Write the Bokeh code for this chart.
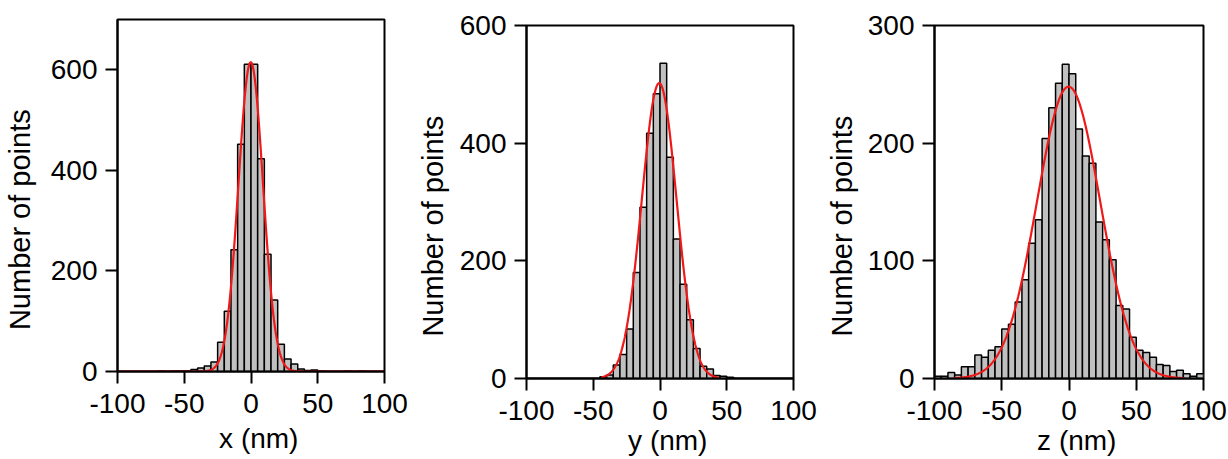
import numpy as np
from bokeh.plotting import figure
from bokeh.layouts import row, column
from bokeh.models import FixedTicker, LinearAxis
from bokeh.embed import file_html
from bokeh.resources import INLINE

# ---- data ----
bin_width = 5
bin_left = list(range(-100, 100, 5))

counts_x = [0, 0, 0, 0, 0, 0, 1, 0, 1, 1,
            1, 4, 7, 11, 19, 58, 120, 242, 452, 611,
            611, 423, 233, 142, 54, 25, 15, 5, 2, 3,
            1, 0, 0, 0, 1, 0, 1, 0, 0, 0]
counts_y = [0, 0, 0, 0, 0, 0, 0, 0, 0, 0,
            0, 3, 6, 23, 41, 84, 180, 291, 417, 484,
            536, 376, 237, 160, 100, 51, 21, 16, 5, 4,
            2, 0, 0, 0, 0, 0, 0, 0, 0, 0]
counts_z = [2, 2, 5, 3, 10, 10, 20, 18, 24, 27,
            42, 46, 65, 84, 115, 135, 204, 230, 251, 267,
            259, 212, 189, 183, 133, 118, 101, 62, 59, 35,
            24, 22, 18, 12, 11, 6, 7, 4, 2, 4]

# Gaussian fit parameters (amplitude, centre, sigma, drawn span)
fit_x = dict(amp=615, mu=-0.2, sigma=9.2, lo=-100, hi=100)
fit_y = dict(amp=502, mu=-0.6, sigma=13.0, lo=-44, hi=44)
fit_z = dict(amp=248, mu=-0.3, sigma=23.5, lo=-86, hi=86)

x_ticks = [-100, -50, 0, 50, 100]
x_tick_labels = ["-100", "-50", "0", "50", "100"]
y_ticks_x = [0, 200, 400, 600]
y_ticks_y = [0, 200, 400, 600]
y_ticks_z = [0, 100, 200, 300]

xlabels = ["x (nm)", "y (nm)", "z (nm)"]
ylabel = "Number of points"

FONT = "Liberation Sans"
TICK_FS = "28px"
XLAB_FS = "28px"
YLAB_FS = "29px"
NB = "\u00a0"


def panel(counts, fit, yticks, ymax, xlabel, width, height, bl, br, bt, bb,
          ylab_standoff, xtick_standoff, xlab_standoff):
    p = figure(width=width, height=height, x_range=(-100, 100), y_range=(0, ymax),
               output_backend="svg", toolbar_location=None,
               min_border_left=bl, min_border_right=br,
               min_border_top=bt, min_border_bottom=bb,
               x_axis_location=None, y_axis_location=None)
    p.grid.visible = False
    p.outline_line_color = "black"
    p.outline_line_width = 2
    p.background_fill_color = "white"
    p.border_fill_color = "white"

    lefts = np.array(bin_left, dtype=float)
    p.quad(left=lefts, right=lefts + bin_width, bottom=0, top=counts,
           fill_color="#c0c0c0", line_color="black", line_width=1.5)

    xs = np.linspace(fit["lo"], fit["hi"], 600)
    ys = fit["amp"] * np.exp(-(xs - fit["mu"]) ** 2 / (2 * fit["sigma"] ** 2))
    p.line(xs, ys, line_color="#f01818", line_width=2.2)

    def style(ax, ticks):
        ax.ticker = FixedTicker(ticks=ticks)
        ax.minor_tick_line_color = None
        ax.axis_line_width = 2
        ax.axis_line_color = "black"
        ax.major_tick_line_width = 2
        ax.major_tick_line_color = "black"
        ax.major_tick_out = 12
        ax.major_tick_in = 0
        ax.major_label_text_font = FONT
        ax.major_label_text_font_size = TICK_FS
        ax.major_label_text_color = "black"
        ax.axis_label_text_font = FONT
        ax.axis_label_text_font_style = "normal"
        ax.axis_label_text_color = "black"

    xb = LinearAxis()
    style(xb, x_ticks)
    xb.major_label_overrides = {t: s for t, s in zip(x_ticks, x_tick_labels)}
    xb.major_label_standoff = xtick_standoff
    xb.axis_label = NB + NB + xlabel
    xb.axis_label_text_font_size = XLAB_FS
    xb.axis_label_standoff = xlab_standoff
    p.add_layout(xb, "below")

    yl = LinearAxis()
    style(yl, yticks)
    yl.major_label_standoff = 8
    yl.axis_label = ylabel + NB * 6
    yl.axis_label_text_font_size = YLAB_FS
    yl.axis_label_standoff = ylab_standoff
    p.add_layout(yl, "left")
    return p


p1 = panel(counts_x, fit_x, y_ticks_x, 700, xlabels[0], 413, 459, 116, 29, 19, 88, 12, 10, 7)
p2 = panel(counts_y, fit_y, y_ticks_y, 600, xlabels[1], 409, 459, 112, 29, 25, 81, 8, 10, 2)
p3 = panel(counts_z, fit_z, y_ticks_z, 300, xlabels[2], 406, 459, 112, 25, 25, 81, 7, 10, 2)

layout = row(column(p1), column(p2), column(p3))
open("out.html", "w").write(file_html(layout, INLINE))
